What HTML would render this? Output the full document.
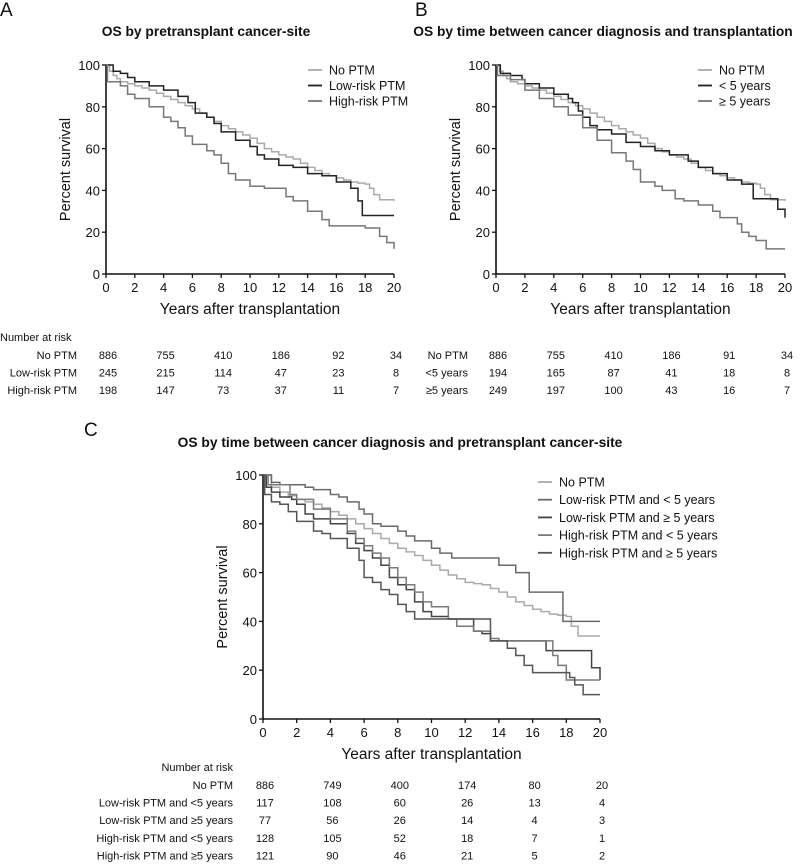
<!DOCTYPE html>
<html><head><meta charset="utf-8"><style>
body{margin:0;background:#fff;width:800px;height:863px;overflow:hidden;font-family:"Liberation Sans",Arial,sans-serif}
svg text{font-family:"Liberation Sans",Arial,sans-serif;fill:#111}
</style></head><body>
<svg id="c" width="800" height="863" viewBox="0 0 800 863"></svg>
<script>
// ---- data ----
const xTicks=[0,2,4,6,8,10,12,14,16,18,20];
const yTicks=[0,20,40,60,80,100];
const riskTimes=[0,4,8,12,16,20];
// Panel A
const aNoT=[0,0.25,0.5,0.75,1,1.5,2,2.5,3,3.5,4,4.5,5,5.5,6,6.5,7,7.5,8,8.5,9,9.5,10,10.5,11,11.5,12,12.5,13,13.5,14,14.5,15,15.5,16,16.5,17,17.5,18,18.3,18.6,19,20];
const aNoS=[100,97,95,93.5,92,91,90,89,88,86.5,85,83.5,82,80.5,79,77,75,73,71,69.5,68,66.5,65,62.5,60,58.5,57,56,55,53,51,49.5,48,47,46,45,44,43.5,43,41,38,35.5,35];
const aLowT=[0,0.5,1,1.5,2,3,4,5,5.7,6.2,7,7.5,8,9,10,10.5,11,12,13,14,15,16,17,17.5,17.8,20];
const aLowS=[100,97,96,94,92,90,88,85,82,77,75,72,68,64,61,57,55,52,51,48,47,44,41,35,28,28];
const aHighT=[0,0.1,1,1.5,2,3,4,4.5,5,5.5,6,7,7.5,8,8.5,9,10,11,12,12.5,13,14,15,15.5,17,18,19,19.5,20];
const aHighS=[100,92,90,86,84,80,75,73,70,66,62,59,57,53,48,45,42,41,41,37,35,30,26,23,23,22,18,15,12];
// Panel B
const bLt5T=[0,0.3,1,1.8,2,3,4,5,5.3,5.7,6,6.5,7,8,9,10,11,12,13,13.3,14,15,16,17,17.7,17.8,19,19.5,20];
const bLt5S=[100,96,95,93,91,89,86,84,82,78,75,71,69,67,63,61,59,57,57,54,51,48,45,43,43,36,36,31,27];
const bGe5T=[0,0.1,1,2,3,4,5,6,7,8,9,9.5,10,11,11.5,12,12.4,13,14,15,15.5,16,16.7,17,17.5,18,18.7,20];
const bGe5S=[100,95,93,88,84,80,76,70,64,58,54,50,44,42,40,40,36,35,33,30,27,27,24,20,18,16,12,12];
// Panel C
const cNoT=[0,0.5,1,1.5,2,2.5,3,3.5,4,4.5,5,5.5,6,6.5,7,7.5,8,8.5,9,9.5,10,10.5,11,11.5,12,12.5,13,13.5,14,14.5,15,15.5,16,16.5,17,17.5,18,18.3,18.7,20];
const cNoS=[100,95,93,91.5,90,89,88,86.5,85,83.5,82,80,78,76,74,72,70,68.5,67,65,63,61,59,57.5,56,55.5,55,53.5,52,50,48,46.5,45,44,43,42.5,42,38,34,34];
const cLowLtT=[0,0.5,1,2,2.5,3,4,4.5,5,5.7,6,6.5,7,8,8.5,9,10,10.5,11.2,13.8,14,15,15.8,17.8,20];
const cLowLtS=[100,97,96,96,95,94,92,91,89,86,84,80,79,77,75,73,70,68,66,66,63,60,52,40,40];
const cLowGeT=[0,0.2,0.5,1,1.7,2,2.5,3,4,5,5.5,6,6.5,7,7.5,8,8.5,9,9.5,10,11,12,12.5,13,13.5,16.8,17.5,19.5,20];
const cLowGeS=[100,95,93,91,90,88,84,82,80,76,72,69,66,63,58,55,53,48,44,42,41,41,36,35,32,28,28,21,16];
const cHighLtT=[0,0.3,1,1.6,2,3,4,5,5.5,6,6.5,7,7.5,8,8.5,9,9.5,10,11,11.5,12.5,13.5,14,16.5,17.2,17.5,18,20];
const cHighLtS=[100,96,96,92,90,86,82,77,74,71,68,66,62,58,55,52,48,46,41,38,36,33,32,32,26,22,16,16];
const cHighGeT=[0,0.1,0.5,1,1.5,2,3,3.5,4,5,5.7,6,6.5,7,7.5,8,8.5,9,13.3,13.5,14.5,15,15.5,16,18,18.2,18.5,19,20];
const cHighGeS=[100,92,89,88,85,81,77,76,74,70,65,58,56,53,51,47,44,41,41,32,29,26,22,19,19,17,14,10,10];
// risk tables
const aRiskLabels=["No PTM","Low-risk PTM","High-risk PTM"];
const aRisk=[[886,755,410,186,92,34],[245,215,114,47,23,8],[198,147,73,37,11,7]];
const bRiskLabels=["No PTM","<5 years","\u22655 years"];
const bRisk=[[886,755,410,186,91,34],[194,165,87,41,18,8],[249,197,100,43,16,7]];
const cRiskLabels=["No PTM","Low-risk PTM and <5 years","Low-risk PTM and \u22655 years","High-risk PTM and <5 years","High-risk PTM and \u22655 years"];
const cRisk=[[886,749,400,174,80,20],[117,108,60,26,13,4],[77,56,26,14,4,3],[128,105,52,18,7,1],[121,90,46,21,5,2]];

const svg=document.getElementById('c');
const NS='http://www.w3.org/2000/svg';
function el(tag,attrs,txt){const e=document.createElementNS(NS,tag);for(const k in attrs)e.setAttribute(k,attrs[k]);if(txt!=null)e.textContent=txt;svg.appendChild(e);return e;}

function panel(p){
  const X=t=>p.x0+(p.x1-p.x0)*t/20, Y=v=>p.y0-(p.y0-p.y100)*v/100;
  let e=el('text',{x:p.lx,y:p.ly,'font-size':19},p.letter);
  
  
  e=el('text',{x:p.tx,y:p.ty,'font-size':13.8,'font-weight':'bold','text-anchor':'middle'},p.title);
  
  
  e=el('path',{d:`M${p.x0},${Y(100)}V${p.y0}H${p.x1}`,stroke:'#111','stroke-width':1.6,fill:'none'});
  
  
  xTicks.forEach(t=>{
    el('line',{x1:X(t),x2:X(t),y1:p.y0,y2:p.y0+4,stroke:'#111','stroke-width':1.3});
    e=el('text',{x:X(t),y:p.y0+18,'font-size':13,'text-anchor':'middle'},t);
    
    
  });
  yTicks.forEach(v=>{
    el('line',{x1:p.x0-4,x2:p.x0,y1:Y(v),y2:Y(v),stroke:'#111','stroke-width':1.3});
    e=el('text',{x:p.x0-6,y:Y(v)+5,'font-size':13,'text-anchor':'end'},v);
    
    
  });
  e=el('text',{x:(p.x0+p.x1)/2,y:p.y0+40,'font-size':15.5,'text-anchor':'middle'},'Years after transplantation');
  
  
  const cy=(p.y0+p.y100)/2;
  e=el('text',{x:p.x0-36,y:cy,'font-size':14.5,'text-anchor':'middle',transform:`rotate(-90 ${p.x0-36} ${cy})`},'Percent survival');
  
  
  p.series.forEach((s,i)=>{
    let d=`M${X(s.t[0])},${Y(s.s[0])}`;
    for(let k=1;k<s.t.length;k++){d+=`H${X(s.t[k])}V${Y(s.s[k])}`;}
    e=el('path',{d,stroke:s.c,'stroke-width':1.5,fill:'none'});
    
    
    const ly=p.legY+i*p.legDy;
    e=el('line',{x1:p.legX,x2:p.legX+14,y1:ly,y2:ly,stroke:s.c,'stroke-width':1.8});
    
    
    e=el('text',{x:p.legX+21,y:ly+4.5,'font-size':12.5},s.label);
    
    
  });
  if(p.nar){
    e=el('text',{x:p.narX,y:p.narY,'font-size':11,'text-anchor':p.narAnchor},'Number at risk');
    
    
  }
  p.riskLabels.forEach((lab,r)=>{
    const ry=p.riskY+r*p.riskDy;
    e=el('text',{x:p.riskLX,y:ry,'font-size':11,'text-anchor':'end'},lab);
    
    
    riskTimes.forEach((t,c)=>{
      e=el('text',{x:X(t)+2,y:ry,'font-size':11,'text-anchor':'middle'},p.risk[r][c]);
      
      
    });
  });
}
panel({id:'a',letter:'A',lx:0,ly:16,title:'OS by pretransplant cancer-site',tx:206,ty:36,
  x0:106,x1:394,y0:274,y100:65,legX:308,legY:70,legDy:15.5,
  series:[{n:'no-ptm',t:aNoT,s:aNoS,c:'#aaaaaa',label:'No PTM'},{n:'low-risk',t:aLowT,s:aLowS,c:'#222222',label:'Low-risk PTM'},{n:'high-risk',t:aHighT,s:aHighS,c:'#777777',label:'High-risk PTM'}],
  nar:true,narX:0,narY:341,narAnchor:'start',riskLabels:aRiskLabels,risk:aRisk,riskY:359,riskDy:17.5,riskLX:77});
panel({id:'b',letter:'B',lx:415,ly:16,title:'OS by time between cancer diagnosis and transplantation',tx:603,ty:36,
  x0:496,x1:785,y0:274,y100:65,legX:698,legY:70,legDy:15.5,
  series:[{n:'no-ptm',t:aNoT,s:aNoS,c:'#aaaaaa',label:'No PTM'},{n:'lt5',t:bLt5T,s:bLt5S,c:'#222222',label:'< 5 years'},{n:'ge5',t:bGe5T,s:bGe5S,c:'#777777',label:'\u2265 5 years'}],
  nar:false,riskLabels:bRiskLabels,risk:bRisk,riskY:359,riskDy:17.5,riskLX:468});
panel({id:'c',letter:'C',lx:84,ly:436,title:'OS by time between cancer diagnosis and pretransplant cancer-site',tx:400,ty:447,
  x0:263,x1:600,y0:719,y100:475,legX:538,legY:482,legDy:17.7,
  series:[{n:'no-ptm',t:cNoT,s:cNoS,c:'#aaaaaa',label:'No PTM'},{n:'low-lt5',t:cLowLtT,s:cLowLtS,c:'#6a6a6a',label:'Low-risk PTM and < 5 years'},{n:'low-ge5',t:cLowGeT,s:cLowGeS,c:'#444444',label:'Low-risk PTM and \u2265 5 years'},{n:'high-lt5',t:cHighLtT,s:cHighLtS,c:'#7a7a7a',label:'High-risk PTM and < 5 years'},{n:'high-ge5',t:cHighGeT,s:cHighGeS,c:'#555555',label:'High-risk PTM and \u2265 5 years'}],
  nar:true,narX:233,narY:771,narAnchor:'end',riskLabels:cRiskLabels,risk:cRisk,riskY:789,riskDy:17.6,riskLX:233});
</script>
</body></html>
